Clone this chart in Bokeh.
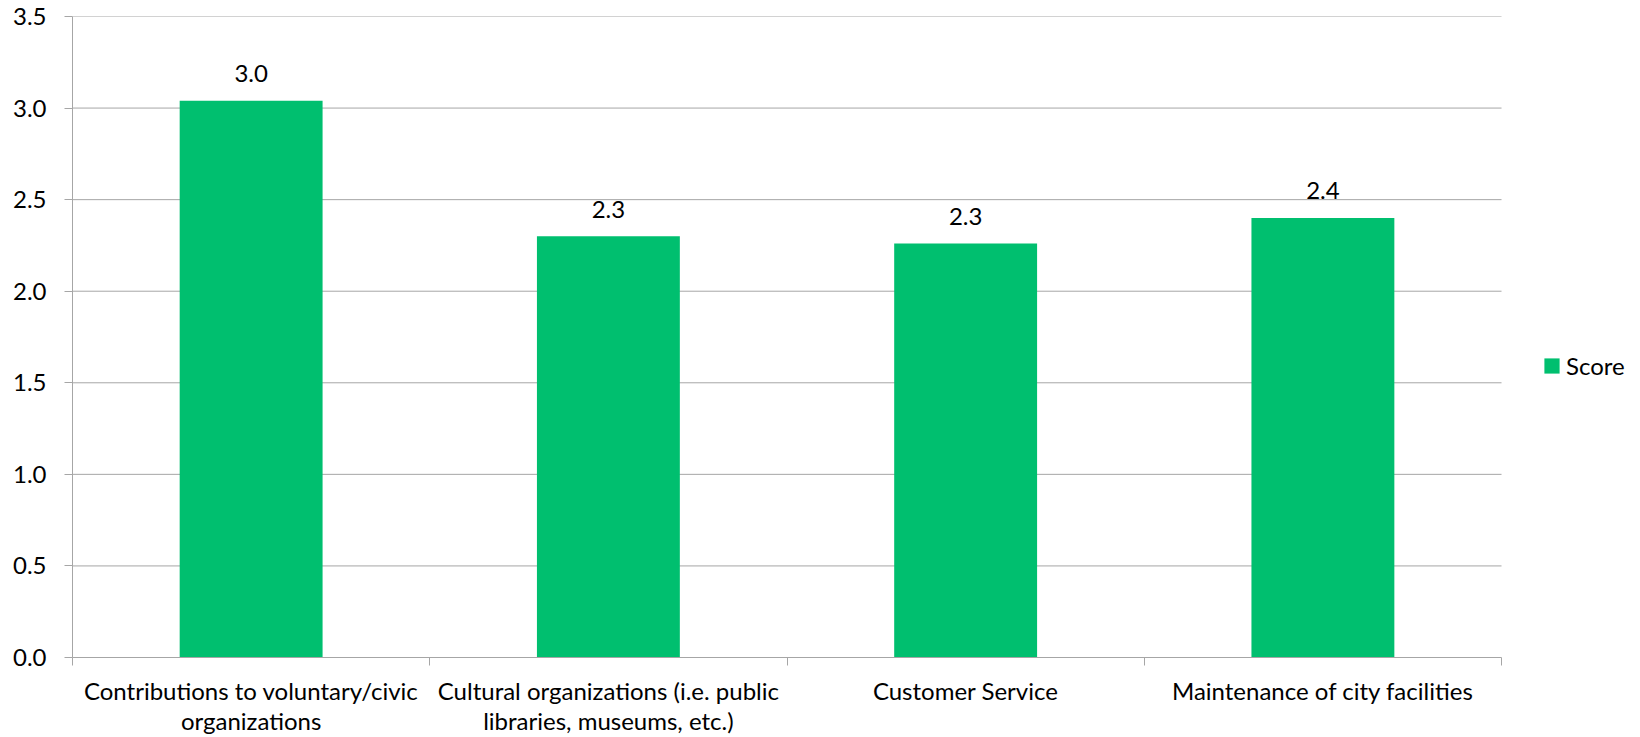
from bokeh.plotting import figure
from bokeh.models import (Range1d, FixedTicker, NumeralTickFormatter, Legend, LegendItem,
                          ColumnDataSource)
from bokeh.core.properties import value
from bokeh.embed import file_html
from bokeh.resources import INLINE

categories = [
    "Contributions to voluntary/civic\norganizations",
    "Cultural organizations (i.e. public\nlibraries, museums, etc.)",
    "Customer Service",
    "Maintenance of city facilities",
]
scores = [3.04, 2.30, 2.26, 2.40]
score_labels = ["3.0", "2.3", "2.3", "2.4"]
y_ticks = [0.0, 0.5, 1.0, 1.5, 2.0, 2.5, 3.0, 3.5]

FONT = "Lato"
FS = "24px"
GRAY = "#a6a6a6"
GREEN = "#00bf6f"

n = len(categories)
positions = list(range(n))
x_start, x_end = -0.5, n - 0.5
# room to the right of the category area (for the legend), in category units
right_room = 0.389

src = ColumnDataSource(dict(x=positions, top=scores, lab=score_labels))

p = figure(width=1640, height=737, output_backend="svg", toolbar_location=None,
           x_range=Range1d(x_start, x_end + right_room), y_range=Range1d(0, 3.5),
           min_border_left=72, min_border_right=0, min_border_top=16, min_border_bottom=79)
p.outline_line_color = None
p.background_fill_color = "white"
p.border_fill_color = "white"

# horizontal gridlines limited to the category area
grid_ticks = y_ticks[1:]
p.segment(x0=[x_start] * len(grid_ticks), x1=[x_end] * len(grid_ticks),
          y0=grid_ticks, y1=grid_ticks, line_color=GRAY, line_width=1)

bars = p.vbar(x="x", top="top", width=0.4, source=src, fill_color=GREEN, line_color=None)
p.text(x="x", y="top", text="lab", source=src, text_align="center", text_baseline="middle",
       y_offset=-27, text_font=value(FONT), text_font_size=FS, text_color="#000000")

# y axis
ya = p.yaxis[0]
ya.ticker = FixedTicker(ticks=y_ticks)
ya.formatter = NumeralTickFormatter(format="0.0")
ya.axis_line_color = GRAY
ya.major_tick_line_color = GRAY
ya.major_tick_out = 8
ya.major_tick_in = 0
ya.minor_tick_line_color = None
ya.major_label_standoff = 18
ya.major_label_text_font = FONT
ya.major_label_text_font_size = FS
ya.major_label_text_color = "#000000"

# x axis
xa = p.xaxis[0]
xa.bounds = (x_start, x_end)
xa.ticker = FixedTicker(ticks=positions, minor_ticks=[i - 0.5 for i in range(n + 1)])
xa.major_label_overrides = {i: c for i, c in enumerate(categories)}
xa.axis_line_color = GRAY
xa.major_tick_line_color = None
xa.major_tick_out = 0
xa.major_tick_in = 0
xa.minor_tick_line_color = GRAY
xa.minor_tick_out = 8
xa.minor_tick_in = 0
xa.major_label_standoff = 10
xa.major_label_text_font = FONT
xa.major_label_text_font_size = FS
xa.major_label_text_line_height = 1.05
xa.major_label_text_color = "#000000"

p.xgrid.grid_line_color = None
p.ygrid.grid_line_color = None

legend = Legend(items=[LegendItem(label="Score", renderers=[bars])],
                location=(1470, 277), orientation="vertical",
                padding=0, margin=0, spacing=0,
                glyph_width=19, glyph_height=19, label_height=19, label_standoff=5,
                label_text_font=FONT, label_text_font_size=FS, label_text_color="#000000",
                border_line_color=None, background_fill_alpha=0)
p.add_layout(legend, "center")

open("out.html", "w").write(file_html(p, INLINE))
